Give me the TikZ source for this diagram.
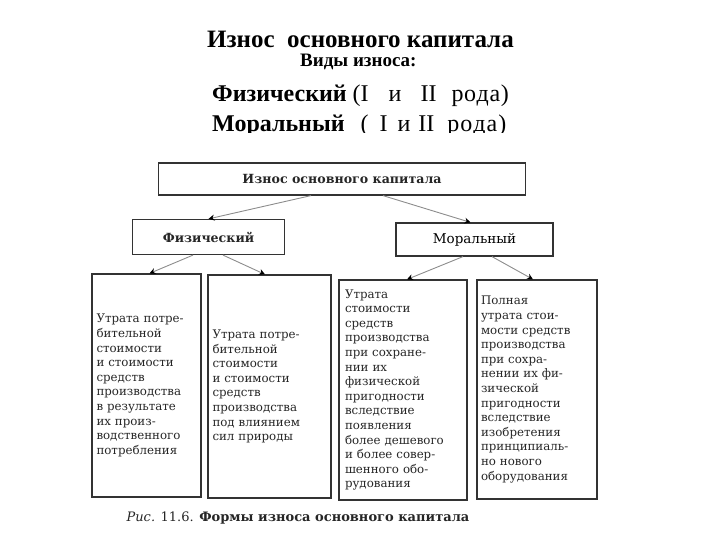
\documentclass[tikz,border=0pt]{standalone}
\usepackage{fontspec}
\setmainfont{Liberation Serif}
\newfontfamily\bookfont{DejaVu Serif}
\usetikzlibrary{positioning, arrows.meta}
\tikzset{
	headbox/.style={draw=black!80, line width=1.2pt, inner sep=0pt, font=\bookfont\bfseries\fontsize{12.6}{14}\selectfont, text=black!85}
}
\tikzset{
	textbox/.style={draw=black!80, line width=1.2pt, inner sep=0pt, align=left, font=\bookfont\fontsize{11.8}{14.6}\selectfont, text=black!85}
}
\tikzset{
	link/.style={draw=black!45, line width=0.9pt, -{Stealth[length=6pt, width=6pt, color=black]}}
}
\tikzset{
	headline/.style={anchor=base west, inner sep=0pt, font=\fontsize{24}{26}\selectfont}
}

\begin{document}
\begin{tikzpicture}[x=1pt, y=-1pt]
      \useasboundingbox (0,0) rectangle (720,540);
      % heading above the scheme
      \node[headline, font=\bfseries\fontsize{25}{26}\selectfont] (title) at (207,48) {Износ\ \ основного капитала};
      \node[headline, font=\bfseries\fontsize{19}{20}\selectfont] (kinds) at (300,67) {Виды износа:};
      \node[headline] (physline) at (212,102) {\textbf{Физический} (I\hspace{20pt}и\hspace{19pt}II\hspace{15pt}р\hspace{0.6pt}о\hspace{0.6pt}д\hspace{0.6pt}а\hspace{0.6pt})};
      \begin{scope}
        \clip (0,0) rectangle (720,133);
        \node[headline] (moralline) at (212,132) {\textbf{Моральный}\hspace{16pt}(\hspace{11pt}I\hspace{10pt}и\hspace{8pt}II\hspace{13pt}р\hspace{1pt}о\hspace{1pt}д\hspace{1pt}а\hspace{1pt})};
      \end{scope}
      % top of the scheme
      \node[headbox, minimum width=367pt, minimum height=32pt] (wear) at (342,179) {Износ основного капитала};
      \node[headbox, minimum width=152pt, minimum height=35pt] (phys) at (208.5,237) {Физический};
      \node[headbox, font=\bookfont\fontsize{13.5}{14}\selectfont, text=black, minimum width=157pt, minimum height=33pt] (moral) at (474.5,239.5) {Моральный};
      \draw[link] ([xshift=-31pt]wear.south) -- (phys.north);
      \draw[link] ([xshift=41pt]wear.south) -- ([xshift=-4pt]moral.north);
      % four kinds of wear
      \node[textbox, minimum width=109pt, minimum height=223pt, text width=100pt] (kindA) at (146.5,385.5) {%
        Утрата потре-\\бительной\\стоимости\\и стоимости\\средств\\производства\\в результате\\их произ-\\водственного\\потребления};
      \node[textbox, minimum width=123pt, minimum height=223pt, text width=114pt] (kindB) at (269.5,386.5) {%
        Утрата потре-\\бительной\\стоимости\\и стоимости\\средств\\производства\\под влиянием\\сил природы};
      \node[textbox, minimum width=128pt, minimum height=220pt, text width=116pt] (kindC) at (403,390) {%
        Утрата\\стоимости\\средств\\производства\\при сохране-\\нии их\\физической\\пригодности\\вследствие\\появления\\более дешевого\\и более совер-\\шенного обо-\\рудования};
      \node[textbox, minimum width=120pt, minimum height=219pt, text width=112pt] (kindD) at (537,389.5) {%
        Полная\\утрата стои-\\мости средств\\производства\\при сохра-\\нении их фи-\\зической\\пригодности\\вследствие\\изобретения\\принципиаль-\\но нового\\оборудования};
      \draw[link] ([xshift=-15.5pt]phys.south) -- ([xshift=3pt]kindA.north);
      \draw[link] ([xshift=14.5pt]phys.south) -- ([xshift=-4.5pt]kindB.north);
      \draw[link] ([xshift=-11.5pt]moral.south) -- ([xshift=4pt]kindC.north);
      \draw[link] ([xshift=17.5pt]moral.south) -- ([xshift=-4pt]kindD.north);
      % caption
      \node[font=\bookfont\fontsize{13}{14}\selectfont, text=black!85] (caption) at (298,518) {\textit{Рис.} 11.6. \textbf{Формы износа основного капитала}};
    \end{tikzpicture}
\end{document}
